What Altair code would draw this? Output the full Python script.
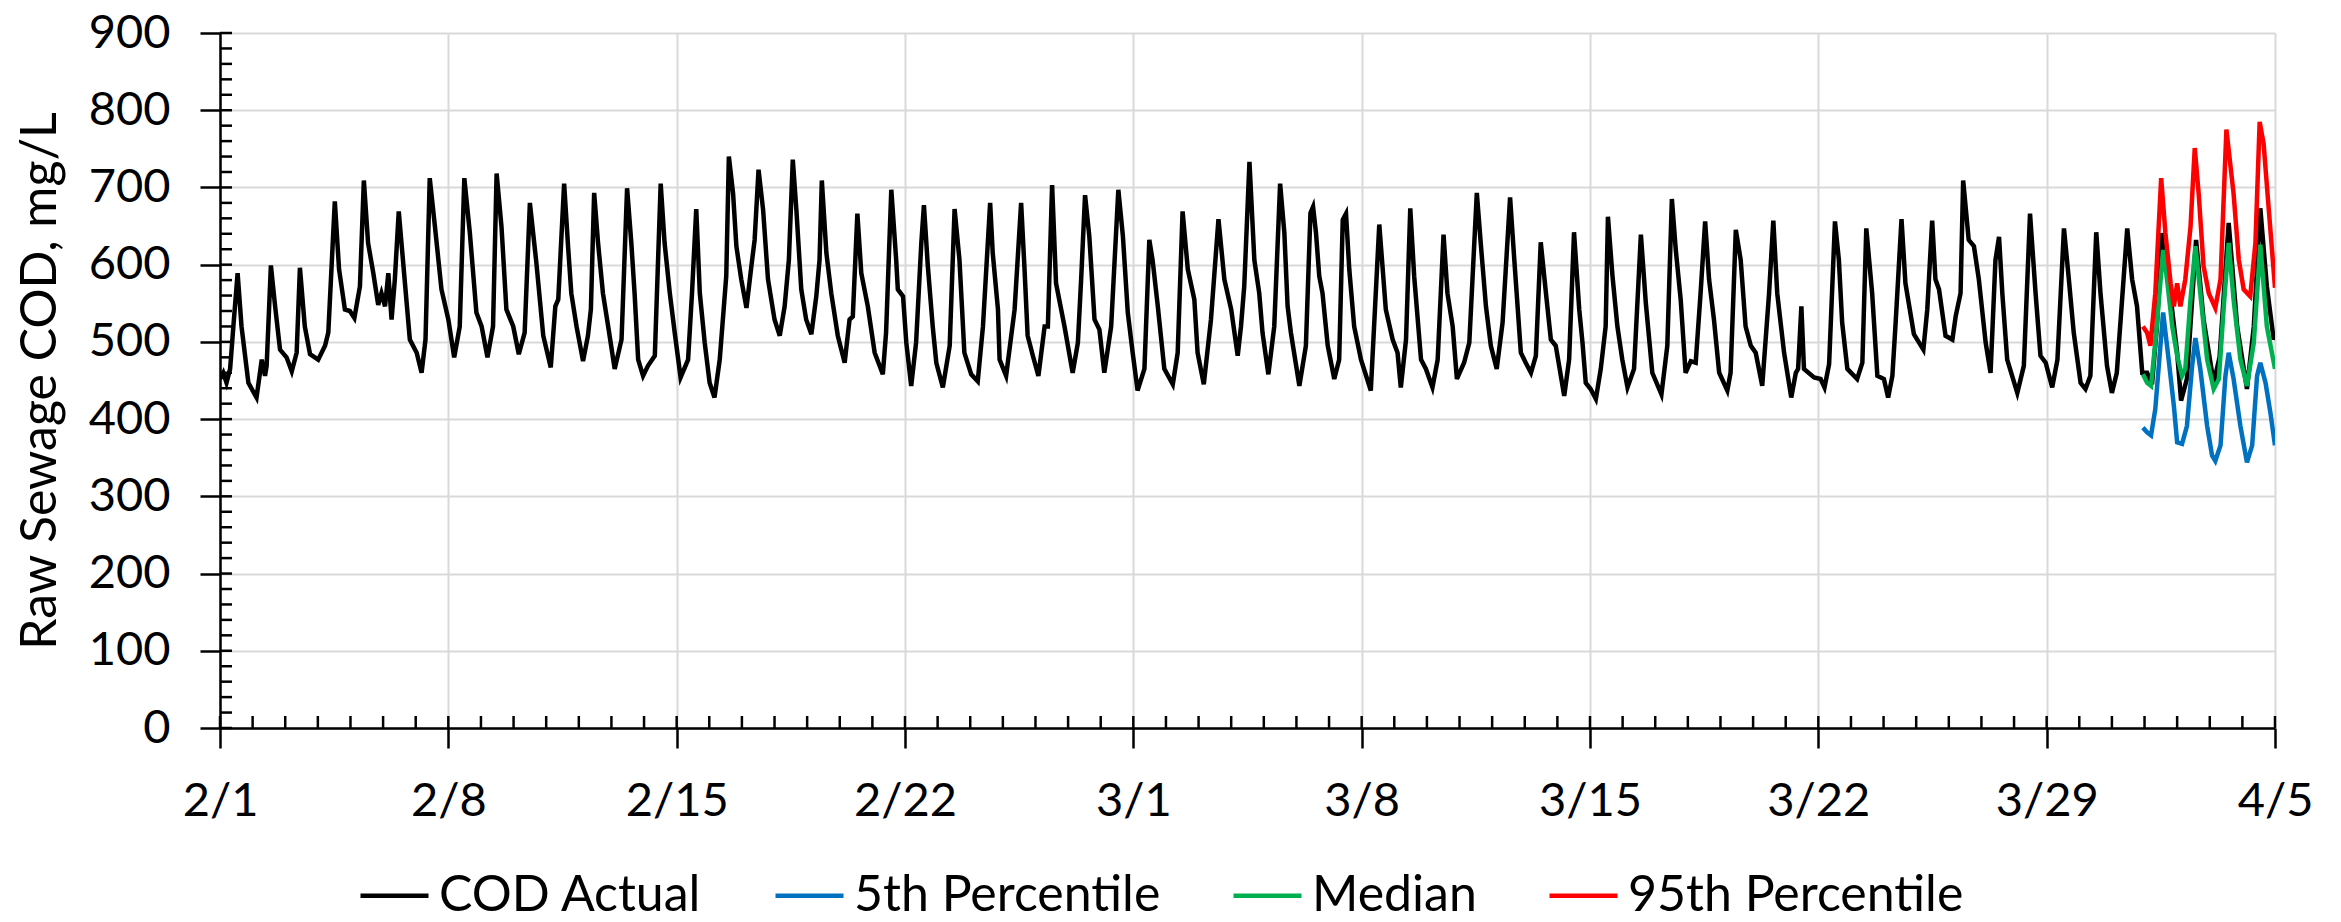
import json
import altair as alt
import pandas as pd

# ---------------- data ----------------
# day offset from 2/1 and COD value (mg/L)
actual_day = [
    0.0, 0.1, 0.2, 0.31, 0.41, 0.54, 0.66, 0.87, 1.12, 1.28, 1.38, 1.43, 1.56, 1.69, 1.84, 2.04, 2.2, 2.35, 2.45, 2.6,
    2.76, 3.01, 3.22, 3.32, 3.52, 3.65, 3.83, 3.98, 4.12, 4.29, 4.41, 4.54, 4.7, 4.85, 4.95, 5.06, 5.16, 5.26, 5.36, 5.48,
    5.67, 5.82, 6.03, 6.18, 6.3, 6.43, 6.59, 6.79, 7.0, 7.18, 7.35, 7.49, 7.66, 7.86, 8.02, 8.2, 8.37, 8.48, 8.63, 8.78,
    8.99, 9.16, 9.34, 9.5, 9.7, 9.91, 10.14, 10.28, 10.37, 10.55, 10.67, 10.77, 10.93, 11.13, 11.28, 11.37, 11.47, 11.59, 11.74, 11.9,
    12.1, 12.31, 12.48, 12.61, 12.71, 12.82, 12.97, 13.12, 13.33, 13.51, 13.63, 13.79, 13.94, 14.12, 14.35, 14.47, 14.6, 14.71, 14.86, 15.01,
    15.16, 15.32, 15.52, 15.6, 15.73, 15.83, 15.98, 16.14, 16.29, 16.39, 16.51, 16.65, 16.8, 17.0, 17.16, 17.31, 17.44, 17.56, 17.67, 17.82,
    17.97, 18.13, 18.28, 18.38, 18.45, 18.59, 18.74, 18.94, 19.15, 19.3, 19.4, 19.54, 19.66, 19.86, 20.07, 20.32, 20.42, 20.58, 20.73, 20.78,
    20.94, 21.04, 21.19, 21.34, 21.5, 21.58, 21.7, 21.85, 21.96, 22.16, 22.37, 22.52, 22.67, 22.82, 23.03, 23.23, 23.39, 23.61, 23.69, 23.85,
    23.9, 24.1, 24.36, 24.56, 24.66, 24.76, 24.92, 25.09, 25.28, 25.38, 25.51, 25.63, 25.89, 26.14, 26.3, 26.4, 26.52, 26.65, 26.81, 26.96,
    27.11, 27.32, 27.54, 27.68, 27.83, 27.98, 28.13, 28.34, 28.49, 28.59, 28.75, 28.95, 29.21, 29.36, 29.51, 29.67, 29.87, 29.97, 30.16, 30.38,
    30.61, 30.79, 31.0, 31.2, 31.3, 31.4, 31.56, 31.71, 31.86, 31.96, 32.14, 32.32, 32.5, 32.63, 32.73, 32.83, 33.09, 33.29, 33.43, 33.51,
    33.6, 33.7, 33.8, 33.96, 34.16, 34.31, 34.42, 34.52, 34.62, 34.77, 34.98, 35.28, 35.54, 35.74, 35.95, 36.1, 36.2, 36.36, 36.49, 36.61,
    36.82, 36.97, 37.17, 37.33, 37.51, 37.63, 37.79, 37.92, 38.14, 38.3, 38.53, 38.65, 38.81, 38.96, 39.14, 39.32, 39.55, 39.68, 39.88, 40.03,
    40.19, 40.34, 40.49, 40.65, 40.8, 40.95, 41.21, 41.36, 41.51, 41.67, 41.77, 41.87, 42.02, 42.18, 42.33, 42.48, 42.55, 42.69, 42.84, 42.99,
    43.15, 43.35, 43.56, 43.71, 43.91, 44.19, 44.37, 44.51, 44.63, 44.78, 44.93, 45.09, 45.24, 45.39, 45.53, 45.65, 45.8, 45.96, 46.21, 46.31,
    46.47, 46.62, 46.77, 46.93, 47.08, 47.28, 47.49, 47.62, 47.74, 47.95, 48.17, 48.31, 48.38, 48.48, 48.56, 48.87, 49.07, 49.19, 49.33, 49.51,
    49.63, 49.73, 49.89, 50.19, 50.35, 50.47, 50.65, 50.81, 51.01, 51.14, 51.27, 51.37, 51.55, 51.67, 51.93, 52.22, 52.34, 52.49, 52.59, 52.7,
    52.9, 53.11, 53.21, 53.36, 53.44, 53.61, 53.77, 53.92, 54.13, 54.28, 54.43, 54.54, 54.64, 54.79, 55.1, 55.3, 55.49, 55.66, 55.81, 55.97,
    56.17, 56.33, 56.53, 56.68, 56.83, 57.04, 57.19, 57.34, 57.52, 57.65, 57.85, 58.0, 58.15, 58.47, 58.62, 58.77, 58.93, 59.08, 59.23, 59.38,
    59.54, 59.69, 60.0, 60.12, 60.3, 60.58, 60.81, 61.12, 61.3, 61.58, 61.84, 62.14, 62.35, 62.55, 62.75, 62.96, 63.0,
]
actual_cod = [
    452, 460, 447, 465, 520, 589, 520, 447, 428, 477, 456, 469, 599, 546, 490, 480, 462, 486, 596, 520,
    484, 477, 495, 512, 682, 594, 542, 540, 531, 572, 709, 628, 589, 548, 563, 546, 589, 529, 581, 669,
    576, 503, 486, 460, 503, 712, 649, 568, 529, 480, 520, 712, 641, 538, 520, 480, 520, 718, 649, 542,
    520, 484, 512, 680, 602, 508, 467, 546, 555, 705, 624, 563, 520, 475, 508, 542, 693, 628, 563, 520,
    465, 503, 699, 628, 563, 477, 456, 469, 482, 705, 628, 563, 512, 454, 477, 563, 672, 563, 499, 447,
    428, 477, 585, 740, 692, 624, 581, 544, 598, 632, 723, 671, 581, 529, 508, 546, 606, 736, 671, 568,
    529, 510, 559, 606, 709, 615, 563, 508, 473, 529, 533, 666, 589, 546, 486, 458, 512, 697, 606, 568,
    559, 499, 443, 499, 628, 677, 598, 520, 473, 441, 495, 672, 606, 486, 458, 449, 520, 680, 615, 542,
    477, 456, 542, 680, 598, 508, 482, 456, 520, 520, 703, 576, 520, 460, 499, 581, 690, 637, 529, 516,
    460, 520, 697, 637, 538, 486, 437, 465, 632, 606, 546, 465, 445, 486, 669, 594, 555, 486, 445, 529,
    659, 581, 542, 482, 520, 572, 733, 606, 563, 512, 458, 520, 705, 641, 546, 512, 443, 495, 667, 675,
    641, 585, 563, 495, 452, 477, 658, 666, 594, 520, 477, 437, 652, 542, 503, 486, 441, 503, 673, 585,
    477, 465, 441, 477, 639, 563, 520, 452, 473, 499, 693, 628, 546, 495, 465, 525, 687, 606, 486, 473,
    460, 482, 629, 563, 503, 495, 430, 477, 642, 542, 499, 447, 439, 426, 465, 520, 662, 585, 520, 477,
    441, 465, 639, 551, 460, 432, 495, 685, 619, 555, 460, 475, 473, 563, 656, 581, 529, 460, 437, 460,
    645, 606, 520, 495, 486, 443, 563, 657, 563, 486, 428, 460, 465, 546, 465, 454, 452, 441, 471, 656,
    606, 525, 465, 452, 473, 647, 563, 456, 452, 428, 456, 525, 659, 576, 510, 490, 542, 657, 581, 568,
    508, 503, 533, 563, 709, 632, 624, 581, 499, 460, 606, 636, 563, 477, 434, 469, 666, 563, 482, 473,
    441, 477, 647, 581, 512, 447, 439, 456, 642, 563, 469, 434, 460, 647, 581, 546, 460, 460, 445, 520,
    641, 598, 486, 424, 452, 632, 529, 447, 480, 654, 520, 439, 520, 673, 572, 503, 508,
]

p5_day = [58.95, 59.08, 59.2, 59.33, 59.57, 59.74, 59.9, 60.0, 60.15, 60.3, 60.46, 60.56, 60.71, 60.92, 61.07, 61.17,
          61.33, 61.48, 61.58, 61.73, 61.94, 62.14, 62.3, 62.45, 62.55, 62.71, 62.86, 63.0]
p5_cod = [389, 383, 379, 413, 538, 477, 417, 370, 368, 391, 469, 505, 465, 391, 353, 346,
          366, 456, 486, 452, 391, 344, 366, 456, 473, 447, 408, 366]

p50_day = [58.95, 59.08, 59.2, 59.33, 59.57, 59.69, 59.85, 60.0, 60.15, 60.25, 60.41, 60.56, 60.71, 60.92, 61.12,
           61.28, 61.43, 61.58, 61.73, 61.94, 62.14, 62.35, 62.55, 62.75, 63.0]
p50_cod = [458, 447, 443, 499, 619, 581, 520, 482, 456, 465, 555, 624, 563, 477, 439,
           452, 546, 628, 555, 477, 443, 499, 626, 520, 465]

p95_day = [58.95, 59.08, 59.18, 59.33, 59.51, 59.64, 59.8, 59.9, 60.0, 60.1, 60.25, 60.41, 60.54, 60.66, 60.81,
           60.97, 61.17, 61.33, 61.51, 61.73, 61.89, 62.04, 62.24, 62.4, 62.53, 62.65, 62.81, 63.0]
p95_cod = [520, 512, 495, 563, 712, 641, 576, 546, 576, 546, 581, 649, 751, 692, 598,
           563, 544, 581, 775, 692, 606, 568, 559, 628, 785, 757, 671, 570]

series_names = ["COD Actual", "5th Percentile", "Median", "95th Percentile"]
series_colors = ["#000000", "#0070C0", "#00B050", "#FF0000"]

week_days = [0, 7, 14, 21, 28, 35, 42, 49, 56, 63]
week_labels = ["2/1", "2/8", "2/15", "2/22", "3/1", "3/8", "3/15", "3/22", "3/29", "4/5"]
y_ticks = [0, 100, 200, 300, 400, 500, 600, 700, 800, 900]
minor_x = list(range(0, 64))
minor_y = list(range(0, 901, 20))

# ---------------- chart ----------------
W, H = 2055, 695
FONT = "Lato"

frames = [
    pd.DataFrame({"day": actual_day, "cod": actual_cod, "series": series_names[0]}),
    pd.DataFrame({"day": p5_day, "cod": p5_cod, "series": series_names[1]}),
    pd.DataFrame({"day": p50_day, "cod": p50_cod, "series": series_names[2]}),
    pd.DataFrame({"day": p95_day, "cod": p95_cod, "series": series_names[3]}),
]

label_expr = json.dumps(week_labels) + "[round(datum.value / 7)]"

x_enc = alt.X(
    "day:Q",
    scale=alt.Scale(domain=[0, 63], nice=False, zero=False),
    axis=alt.Axis(
        values=week_days, labelExpr=label_expr, title=None,
        grid=True, gridColor="#d9d9d9", gridWidth=2,
        tickSize=20, tickWidth=2.5, tickColor="black",
        domainColor="black", domainWidth=2.5,
        labelFont=FONT, labelFontSize=47, labelColor="black",
        labelPadding=30, labelFlush=False, labelOverlap=False, labelBound=False,
    ),
)
y_enc = alt.Y(
    "cod:Q",
    scale=alt.Scale(domain=[0, 900], nice=False),
    axis=alt.Axis(
        values=y_ticks, title="Raw Sewage COD, mg/L",
        grid=True, gridColor="#d9d9d9", gridWidth=2,
        tickSize=20, tickWidth=2.5, tickColor="black",
        domainColor="black", domainWidth=2.5,
        labelFont=FONT, labelFontSize=47, labelColor="black", labelPadding=30,
        titleFont=FONT, titleFontSize=50, titleFontWeight="normal", titleColor="black",
        titleAngle=270, titleX=-180, titleY=H / 2, titleAlign="center", titleBaseline="middle",
    ),
)

color_enc = alt.Color(
    "series:N",
    scale=alt.Scale(domain=series_names, range=series_colors),
    legend=alt.Legend(
        title=None, orient="none", direction="horizontal",
        legendX=138, legendY=826,
        symbolType="stroke", symbolSize=4624, symbolStrokeWidth=4.5,
        labelFont=FONT, labelFontSize=50, labelColor="black", labelOffset=8,
        labelLimit=0, columnPadding=63, padding=0,
    ),
)

layers = []
for df in frames:
    layers.append(
        alt.Chart(df).mark_line(strokeWidth=4.5, clip=True).encode(x=x_enc, y=y_enc, color=color_enc)
    )

minor_x_ticks = alt.Chart(pd.DataFrame({"day": minor_x})).mark_rule(color="black", strokeWidth=2.5).encode(
    x="day:Q", y=alt.value(H - 12), y2=alt.value(H)
)
minor_y_ticks = alt.Chart(pd.DataFrame({"cod": minor_y})).mark_rule(color="black", strokeWidth=2.5).encode(
    y="cod:Q", x=alt.value(0), x2=alt.value(12)
)

chart = alt.layer(*layers, minor_x_ticks, minor_y_ticks).properties(
    width=W, height=H,
    autosize=alt.AutoSizeParams(type="none"),
    padding={"left": 212, "top": 25, "right": 58, "bottom": 200},
).configure_view(
    stroke="black", strokeWidth=3
).configure(background="white")

chart.save("out.html", embed_options={"renderer": "svg", "actions": False})
